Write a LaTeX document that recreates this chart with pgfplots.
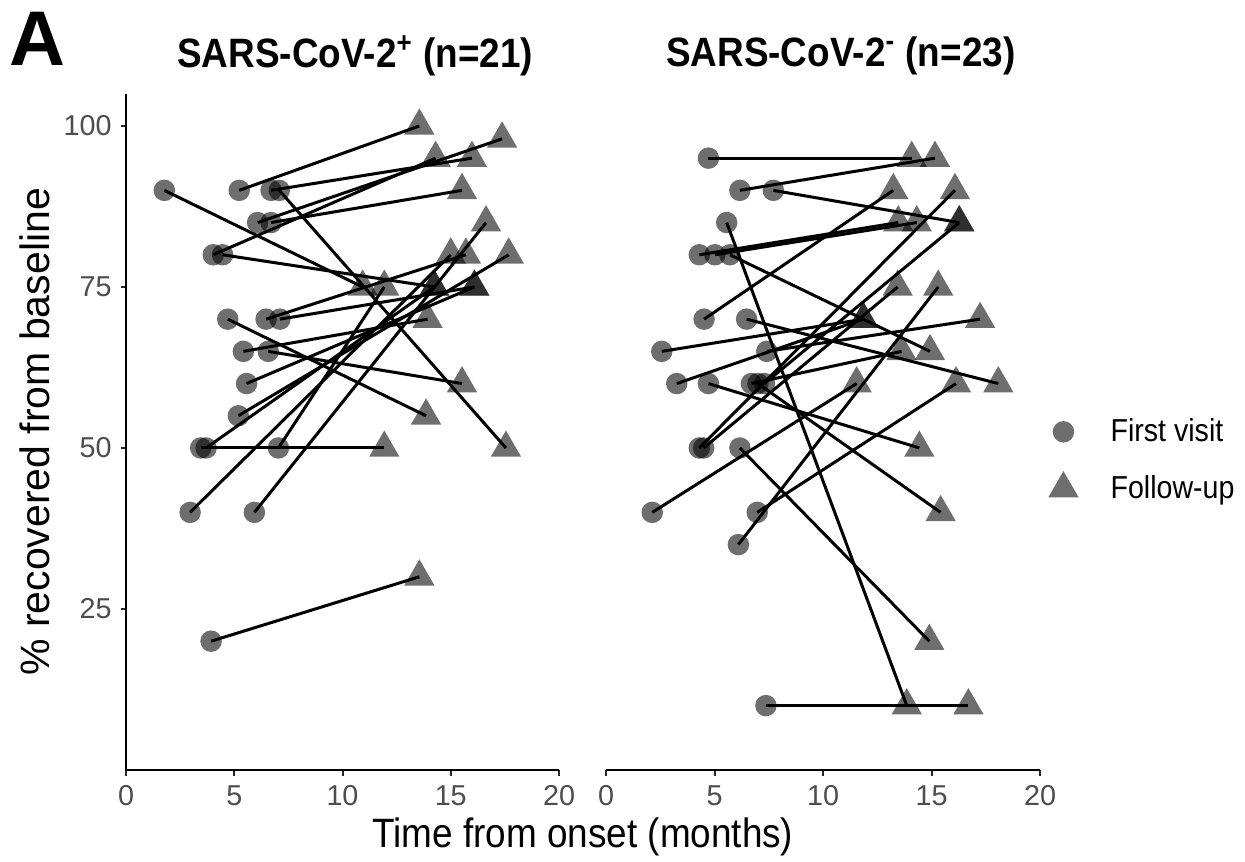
\documentclass[border=0pt]{standalone}
\usepackage{fontspec}
\setmainfont{Liberation Sans}[FakeStretch=0.9]
\newfontfamily\plainfont{Liberation Sans}
\usepackage{pgfplots}
\pgfplotsset{compat=1.18}
\usepackage{pgfplotstable}

\definecolor{ticklab}{HTML}{4D4D4D}

% SARS-CoV-2 positive: first visit (x1,y1) -> follow-up (x2,y2)
\pgfplotstableread{
x1 y1 x2 y2
1.77 90 10.93 75
5.23 90 13.55 100
6.70 90 15.98 95
7.08 90 17.55 50
6.08 85 17.37 98
6.70 85 15.52 90
4.03 80 14.30 95
4.46 80 14.24 75
4.70 70 13.86 55
6.47 70 15.70 80
7.11 70 16.09 75
5.42 65 13.93 70
6.57 65 15.52 60
5.57 60 16.09 75
5.19 55 17.68 80
3.45 50 11.93 50
3.70 50 14.24 75
7.04 50 11.93 75
2.96 40 15.00 80
5.93 40 16.63 85
3.93 20 13.55 30
}\tabpos

% SARS-CoV-2 negative
\pgfplotstableread{
x1 y1 x2 y2
4.72 95 14.09 95
6.17 90 15.16 95
7.71 90 16.28 85
5.56 85 13.86 10
4.30 80 13.47 85
5.02 80 14.32 85
5.71 80 14.93 65
4.52 70 13.24 90
6.48 70 18.08 60
2.57 65 11.86 70
7.41 65 17.24 70
3.26 60 11.86 70
4.72 60 14.44 50
6.70 60 13.62 65
7.00 60 15.42 40
7.30 60 16.28 85
4.30 50 16.08 90
4.50 50 13.44 75
6.17 50 14.90 20
2.13 40 11.55 60
6.97 40 16.13 60
6.10 35 15.31 75
7.37 10 16.70 10
}\tabneg

\begin{document}
\begin{tikzpicture}
\useasboundingbox (0,0) rectangle (498pt,-344.8pt);
\pgfplotsset{
  panel/.style={
    scale only axis, width=173.2pt, height=270.5pt,
    xmin=0, xmax=20, ymin=0, ymax=105,
    xtick={0,5,10,15,20}, ytick={25,50,75,100},
    axis x line*=bottom, axis y line*=left,
    axis line style={-, line width=0.8pt, black},
    tick align=outside, major tick length=2.2pt,
    tick style={line width=0.8pt, black!85},
    tick label style={font=\plainfont\fontsize{11.5}{11.5}\selectfont, text=ticklab},
    xticklabel style={yshift=-0.6pt},
    /pgf/number format/assume math mode=true,
    clip=false,
  },
  circ/.style={only marks, mark=*, mark size=4.3pt,
    mark options={fill=black, fill opacity=0.57, draw opacity=0}},
  tri/.style={only marks, mark=triangle*, mark size=7pt,
    mark options={fill=black, fill opacity=0.57, draw opacity=0}},
  seg/.style={quiver={u=\thisrow{x2}-\thisrow{x1}, v=\thisrow{y2}-\thisrow{y1}},
    black, line width=1.2pt, no marks, forget plot},
}

\begin{axis}[panel, at={(50.4pt,-308pt)}, anchor=south west,
  title={\bfseries SARS-CoV-2\textsuperscript{+} (n=21)},
  title style={at={(axis description cs:0.529,1.056)}, anchor=center, yshift=-6pt,
    font=\fontsize{16.4}{16.4}\selectfont},
  xlabel={Time from onset (months)},
  xlabel style={at={(axis description cs:1.055,-0.099)}, anchor=center,
    font=\fontsize{16.4}{16.4}\selectfont},
  ylabel={\plainfont \% recovered from baseline},
  ylabel style={at={(axis description cs:-0.21,0.5)}, anchor=center,
    font=\fontsize{16.4}{16.4}\selectfont},
]
\addplot[circ] table[x=x1, y=y1] {\tabpos};
\addplot[tri] table[x=x2, y=y2] {\tabpos};
\addplot[seg] table[x=x1, y=y1] {\tabpos};
\node[font=\plainfont\fontsize{31}{31}\selectfont\bfseries] at (axis description cs:-0.2055,1.081) {A};
\end{axis}

\begin{axis}[panel, at={(242.4pt,-308pt)}, anchor=south west, width=173.6pt,
  axis y line=none, ytick=\empty,
  title={\bfseries SARS-CoV-2\textsuperscript{-} (n=23)},
  title style={at={(axis description cs:0.541,1.056)}, anchor=center, yshift=-6pt,
    font=\fontsize{16.4}{16.4}\selectfont},
  legend cell align=left,
  legend style={draw=none, fill=none, at={(axis description cs:1.018,0.528)},
    anchor=north west, font=\fontsize{12.7}{12.7}\selectfont, row sep=8pt,
    inner sep=0pt, /tikz/every odd column/.append style={column sep=10.8pt}},
]
\addplot[circ] table[x=x1, y=y1] {\tabneg};
\addlegendentry{First visit}
\addplot[tri] table[x=x2, y=y2] {\tabneg};
\addlegendentry{Follow-up}
\addplot[seg] table[x=x1, y=y1] {\tabneg};
\end{axis}
\end{tikzpicture}
\end{document}
